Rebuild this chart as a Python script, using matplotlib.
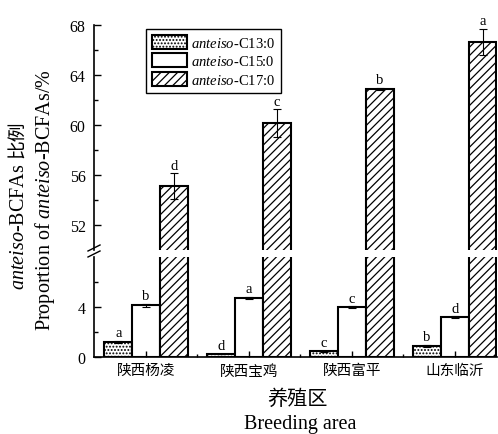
import matplotlib.pyplot as plt
import matplotlib.lines as mlines
from matplotlib.patches import Patch
import numpy as np

plt.rcParams['font.family'] = ['Liberation Serif', 'Noto Sans CJK SC']
plt.rcParams['mathtext.fontset'] = 'custom'
plt.rcParams['mathtext.rm'] = 'Liberation Serif'
plt.rcParams['mathtext.it'] = 'Liberation Serif:italic'
plt.rcParams['hatch.linewidth'] = 0.9

areas = ['陕西杨凌', '陕西宝鸡', '陕西富平', '山东临沂']
c13 = [1.2, 0.25, 0.45, 0.9]
c13_err = [0.1, 0.03, 0.05, 0.08]
c13_sig = ['a', 'd', 'c', 'b']
c15 = [4.15, 4.75, 4.0, 3.2]
c15_err = [0.12, 0.08, 0.05, 0.05]
c15_sig = ['b', 'a', 'c', 'd']
c17 = [55.1, 60.15, 62.9, 66.65]
c17_err = [1.05, 1.1, 0.1, 1.05]
c17_sig = ['d', 'c', 'b', 'a']

W, H = 498, 435
fig = plt.figure(figsize=(W / 100, H / 100), dpi=100)

left, right = 94, 497
ax_lo = fig.add_axes([left / W, (H - 358) / H, (right - left) / W, 100 / H])
ax_hi = fig.add_axes([left / W, (H - 251) / H, (right - left) / W, 225 / H], sharex=ax_lo)

x = np.arange(len(areas))
w = 0.27
bar_kw = dict(width=w, edgecolor='black', linewidth=1.5)
err_kw = dict(fmt='none', ecolor='black', elinewidth=0.8, capsize=3, capthick=0.8)


def label(ax, xs, vals, errs, sigs):
    for xi, v, e, s in zip(xs, vals, errs, sigs):
        ax.annotate(s, (xi, v + e), xytext=(0, 1), textcoords='offset points',
                    ha='center', va='bottom', fontsize=10.5)


for ax in (ax_lo, ax_hi):
    ax.bar(x - w, c13, color='white', hatch='.....', **bar_kw)
    ax.bar(x, c15, color='white', **bar_kw)
    ax.bar(x + w, c17, color='white', hatch='////', **bar_kw)

ax_lo.errorbar(x - w, c13, yerr=c13_err, **err_kw)
ax_lo.errorbar(x, c15, yerr=c15_err, **err_kw)
ax_hi.errorbar(x + w, c17, yerr=c17_err, **err_kw)
label(ax_lo, x - w, c13, c13_err, c13_sig)
label(ax_lo, x, c15, c15_err, c15_sig)
label(ax_hi, x + w, c17, c17_err, c17_sig)

ax_lo.set_xlim(-0.505, 3.41)
ax_lo.set_ylim(0, 8)
ax_hi.set_ylim(50, 68)
ax_lo.set_yticks([0, 4])
ax_lo.set_yticks([2, 6], minor=True)
ax_hi.set_yticks([52, 56, 60, 64, 68])
ax_hi.set_yticks([54, 58, 62, 66], minor=True)
ax_lo.set_xticks(x)
ax_lo.set_xticklabels(areas, fontsize=10.5)
ax_lo.set_xticks(x[:-1] + 0.5, minor=True)

for ax in (ax_lo, ax_hi):
    for s in ('top', 'right'):
        ax.spines[s].set_visible(False)
    ax.spines['left'].set_linewidth(1.2)
    ax.tick_params(axis='y', direction='in', length=5, width=1, labelsize=11.5, pad=6)
    ax.tick_params(axis='y', which='minor', direction='in', length=3, width=1)
ax_hi.spines['bottom'].set_visible(False)
ax_hi.tick_params(axis='x', which='both', bottom=False, labelbottom=False)
ax_lo.spines['bottom'].set_linewidth(1.2)
ax_lo.tick_params(axis='x', direction='in', length=4, width=1, pad=5)
ax_lo.tick_params(axis='x', which='minor', direction='in', length=2, width=1)

# axis break marks
for yb in (250, 256):
    fig.add_artist(mlines.Line2D([(left - 6) / W, (left + 6) / W],
                                 [(H - yb - 2) / H, (H - yb + 4) / H],
                                 color='black', lw=1))

handles = [Patch(facecolor='white', edgecolor='black', hatch='.....', linewidth=1.5),
           Patch(facecolor='white', edgecolor='black', linewidth=1.5),
           Patch(facecolor='white', edgecolor='black', hatch='////', linewidth=1.5)]
labels = [r'$\it{anteiso}$-C13:0', r'$\it{anteiso}$-C15:0', r'$\it{anteiso}$-C17:0']
leg = ax_hi.legend(handles, labels, loc='upper left', bbox_to_anchor=(0.129, 0.982),
                   borderaxespad=0, fontsize=10.5, fancybox=False, edgecolor='black',
                   framealpha=1, handlelength=2.4, handleheight=1.1, labelspacing=0.25,
                   borderpad=0.4, handletextpad=0.3)
leg.get_frame().set_linewidth(1)

# y label, line 1 in two pieces so that the CJK part falls back properly
t1 = fig.text(20 / W, 1 - 290 / H, r'$\it{anteiso}$-BCFAs', rotation=90,
              ha='center', va='bottom', fontsize=14.5)
fig.canvas.draw()
bb = t1.get_window_extent()
fig.text(18 / W, (bb.y1 + 5) / H, '比例', rotation=90, ha='center', va='bottom',
         fontsize=13.5, family='Noto Sans CJK SC')
fig.text(45 / W, 1 - 200 / H, r'Proportion of $\it{anteiso}$-BCFAs/%', rotation=90,
         ha='center', va='center', fontsize=14.5)
fig.text(297 / W, 1 - 400 / H, '养殖区', ha='center', va='center', fontsize=14.5)
fig.text(300 / W, 1 - 425 / H, 'Breeding area', ha='center', va='center', fontsize=14.5)

fig.savefig('out.png', dpi=100)
